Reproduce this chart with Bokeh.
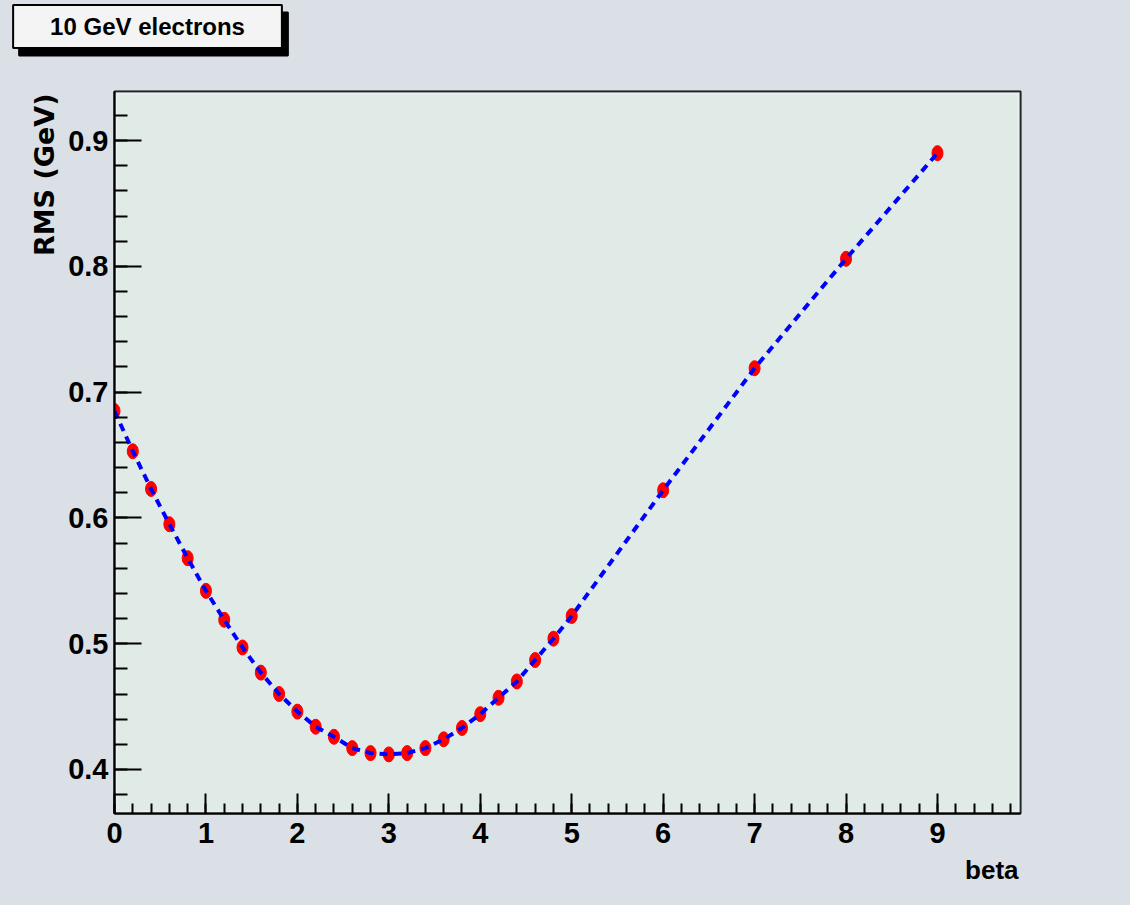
from bokeh.plotting import figure
from bokeh.models import FixedTicker, Label, Range1d, Title, BoxAnnotation
from bokeh.embed import file_html
from bokeh.resources import INLINE

# ---- data ----
beta = [0.0, 0.2, 0.4, 0.6, 0.8, 1.0, 1.2, 1.4, 1.6, 1.8, 2.0, 2.2, 2.4, 2.6, 2.8,
        3.0, 3.2, 3.4, 3.6, 3.8, 4.0, 4.2, 4.4, 4.6, 4.8, 5.0, 6.0, 7.0, 8.0, 9.0]
rms = [0.685, 0.653, 0.623, 0.595, 0.568, 0.542, 0.519, 0.497, 0.477, 0.460,
       0.446, 0.434, 0.426, 0.417, 0.413, 0.412, 0.413, 0.417, 0.424, 0.433,
       0.444, 0.457, 0.470, 0.487, 0.504, 0.522, 0.622, 0.719, 0.806, 0.890]

x_major = [0, 1, 2, 3, 4, 5, 6, 7, 8, 9]
x_minor = [round(i * 0.2, 1) for i in range(0, 50)]
y_major = [0.4, 0.5, 0.6, 0.7, 0.8, 0.9]
y_minor = [round(0.36 + i * 0.02, 2) for i in range(0, 30)]

title_text = "10 GeV electrons"
x_title = "beta"
y_title = "RMS (GeV)"

OUTER = "#dbe0e7"
INNER = "#e0ebe8"
FONT = "Liberation Sans"

W, H = 1130, 905
p = figure(width=W, height=H, output_backend="svg", toolbar_location=None,
           x_range=Range1d(0, 9.908), y_range=Range1d(0.365, 0.939),
           min_border_left=114, min_border_right=110,
           min_border_top=91, min_border_bottom=92)

p.background_fill_color = INNER
p.border_fill_color = OUTER
p.outline_line_color = "black"
p.outline_line_width = 2
p.grid.visible = False

# white inner highlight of the frame
p.add_layout(BoxAnnotation(fill_alpha=0, line_color="white", line_width=6,
                           level="underlay"))

# axes
for ax in (p.xaxis[0], p.yaxis[0]):
    ax.axis_line_width = 2
    ax.axis_line_color = "black"
    ax.major_tick_line_width = 2
    ax.minor_tick_line_width = 2
    ax.major_tick_out = 0
    ax.minor_tick_out = 0
    ax.major_label_text_font = FONT
    ax.major_label_text_font_style = "bold"
    ax.major_label_text_font_size = "29px"
    ax.major_label_text_color = "black"

p.xaxis.ticker = FixedTicker(ticks=x_major, minor_ticks=x_minor)
p.yaxis.ticker = FixedTicker(ticks=y_major, minor_ticks=y_minor)
p.xaxis.major_tick_in = 20
p.xaxis.minor_tick_in = 10
p.yaxis.major_tick_in = 27
p.yaxis.minor_tick_in = 13
p.xaxis.major_label_standoff = 9
p.yaxis.major_label_standoff = 6

# data
p.ellipse(beta, rms, width=11, height=15, width_units="screen",
          height_units="screen", fill_color="#ff0000", line_color="#ff0000")
p.line(beta, rms, line_color="#0000ff", line_width=4, line_dash="8 6")

# axis titles as side-panel titles
p.add_layout(Title(text=x_title, align="right", vertical_align="top",
                   text_font=FONT, text_font_style="bold",
                   text_font_size="26px", text_color="black",
                   standoff=18, offset=2), "below")
p.add_layout(Title(text=y_title, align="right", vertical_align="top",
                   text_font="DejaVu Sans", text_font_style="bold",
                   text_font_size="27px", text_color="black",
                   standoff=8, offset=2), "left")

# title box with shadow, as labels in the top panels (coords from panel bottom-left)
box_pad = dict(left=37, right=37, top=8, bottom=8)
p.add_layout(Label(x=39, y=57.5, x_units="screen", y_units="screen",
                   text=title_text, text_font=FONT, text_font_style="bold",
                   text_font_size="24px", text_align="center",
                   text_baseline="middle", text_color="black",
                   background_fill_color="black",
                   border_line_color="black", border_line_width=2,
                   padding=box_pad), "above")
p.add_layout(Label(x=33, y=22, x_units="screen", y_units="screen",
                   text=title_text, text_font=FONT, text_font_style="bold",
                   text_font_size="24px", text_align="center",
                   text_baseline="middle", text_color="black",
                   background_fill_color="#f4f4f4",
                   border_line_color="black", border_line_width=2,
                   padding=box_pad), "above")

html = file_html(p, INLINE)
html = html.replace("<head>", "<head><style>html,body{background:%s;}</style>" % OUTER, 1)
open("out.html", "w").write(html)
